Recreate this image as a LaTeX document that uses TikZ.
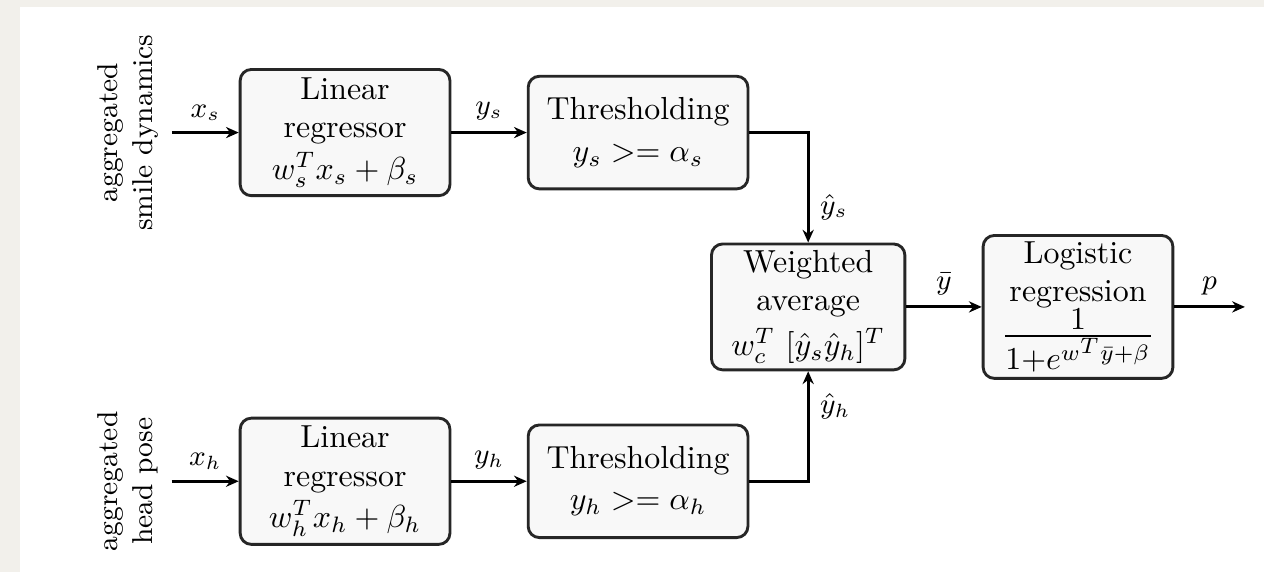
\documentclass[tikz,border=0pt]{standalone}
\usepackage{amsmath,amssymb}
\usepackage{tikz}
\usetikzlibrary{positioning,arrows.meta,calc}
\definecolor{paper}{RGB}{242,240,235}
\definecolor{boxfill}{RGB}{248,248,248}

\begin{document}
\begin{tikzpicture}[
  node distance=8.3mm,
  blk/.style ={draw=black!85, line width=0.9pt, rectangle, rounded corners=3.5pt, fill=boxfill, align=center, inner sep=2pt},
  reg/.style ={blk, minimum width=23.1mm, minimum height=13.9mm},
  thr/.style ={blk, minimum width=24.2mm, minimum height=12.4mm},
  inlbl/.style={rotate=90, align=center, font=\small, inner sep=4pt},
  arr/.style ={-{Stealth[length=4pt,width=3.5pt]}, line width=0.9pt},
  every node/.style={font=\normalsize},
  elbl/.style={font=\small},
]
\fill[paper] (0,0) rectangle (13.92,-6.30);
\fill[white] (0.22,-0.077) rectangle (13.92,-6.30);
\useasboundingbox (0,0) rectangle (13.92,-6.30);

\node[reg] (lr1) at (3.80,-1.46) {Linear\\regressor\\[1pt]$w_s^T x_s + \beta_s$};
\node[thr, right=of lr1] (th1) {Thresholding\\[1pt]$y_s >= \alpha_s$};
\node[reg] (lr2) at (3.80,-5.30) {Linear\\regressor\\[1pt]$w_h^T x_h + \beta_h$};
\node[thr, right=of lr2] (th2) {Thresholding\\[1pt]$y_h >= \alpha_h$};
\node[blk, minimum width=21.3mm, minimum height=13.8mm] (wa) at (8.90,-3.38)
  {Weighted\\average\\[2pt]$w_c^T\ [\hat{y}_s \hat{y}_h]^T$};
\node[blk, minimum width=20.9mm, minimum height=15.5mm, right=of wa] (log)
  {Logistic\\regression\\[-1pt]{\Large$\frac{1}{1+e^{w^T\bar{y}+\beta}}$}};
\node[inlbl] (smile) at (1.41,-1.46) {aggregated\\smile dynamics};
\node[inlbl] (head) at (1.41,-5.30) {aggregated\\head pose};
\coordinate (pout) at (13.71,-3.38);

\draw[arr] (smile.south) -- node[above, elbl] {$x_s$} (lr1.west);
\draw[arr] (lr1) -- node[above, elbl] {$y_s$} (th1);
\draw[arr] (th1.east) -| node[pos=0.84, right, elbl] {$\hat{y}_s$} (wa.north);
\draw[arr] (head.south) -- node[above, elbl] {$x_h$} (lr2.west);
\draw[arr] (lr2) -- node[above, elbl] {$y_h$} (th2);
\draw[arr] (th2.east) -| node[pos=0.84, right, elbl] {$\hat{y}_h$} (wa.south);
\draw[arr] (wa) -- node[above, elbl] {$\bar{y}$} (log);
\draw[arr] (log) -- node[above, elbl] {$p$} (pout);
\end{tikzpicture}
\end{document}
